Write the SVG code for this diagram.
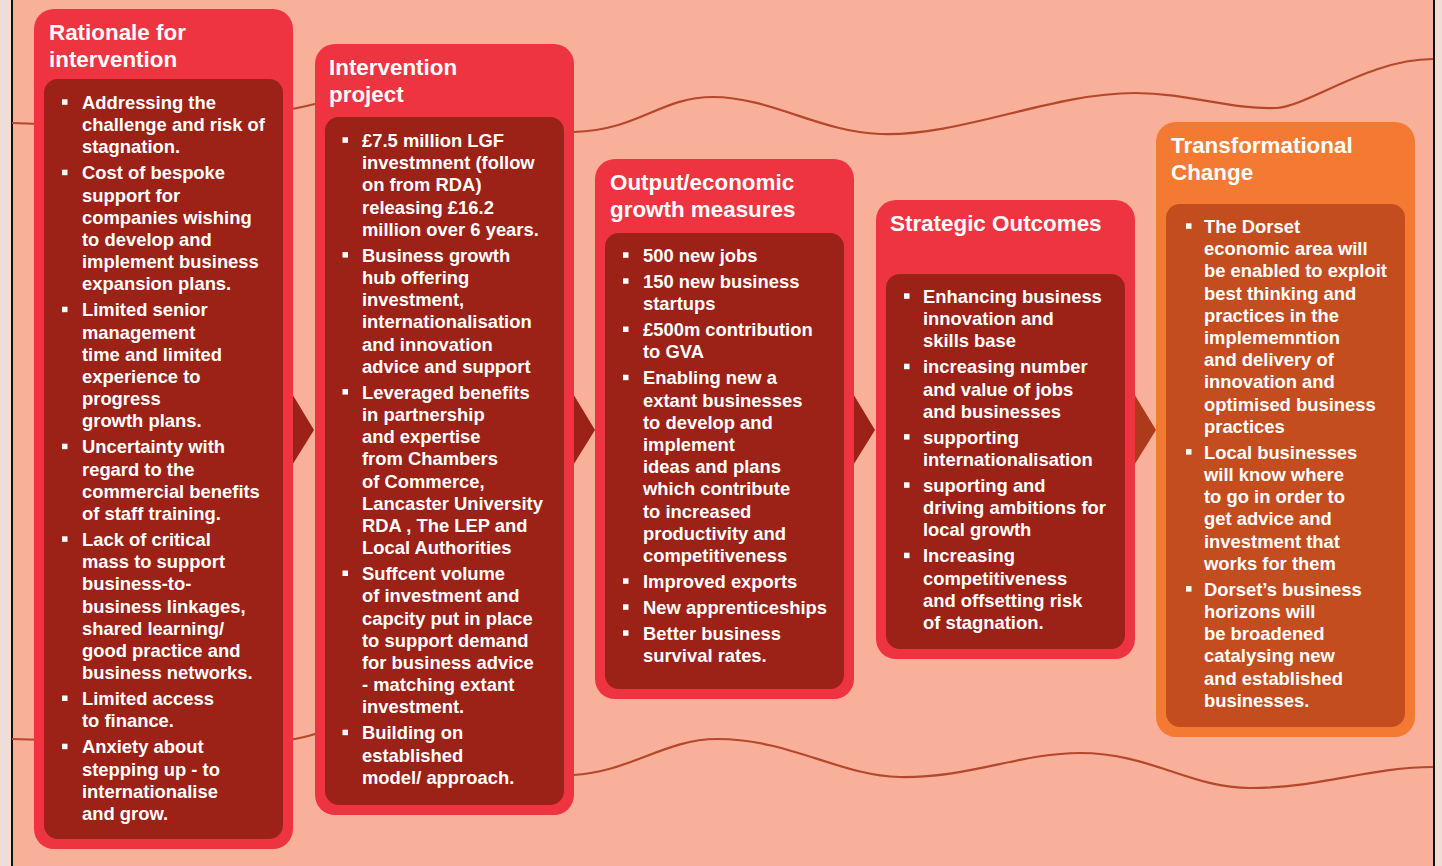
<svg xmlns="http://www.w3.org/2000/svg" width="1442" height="866" viewBox="0 0 1442 866">
<style>
.bg{fill:#F9B09B}
.edge{fill:#EEDED5}
.rule{fill:#111}
.outer{fill:#EE3441}
.inner{fill:#9C2117}
.outerO{fill:#F47A33}
.innerO{fill:#C44D20}
.wave{fill:none;stroke:#B5472B;stroke-width:2.2}
.t{font-family:"Liberation Sans",Arial,Helvetica,sans-serif;font-weight:bold;fill:#fff}
.h{font-size:22.4px}
.b{font-size:18.4px}
.bl{fill:#fff}
.arr{fill:#9C2117}
.arrO{fill:#AE3A1D}
</style>
<defs>
<rect id="bul" width="5.5" height="5.5"/>
</defs>
<rect class="bg" x="0" y="0" width="1442" height="866"/>
<rect class="edge" x="0" y="0" width="11" height="866"/>
<rect class="rule" x="11" y="0" width="2" height="866"/>
<rect class="edge" x="1435" y="0" width="7" height="866"/>
<rect class="rule" x="1433" y="0" width="2" height="866"/>
<path class="wave" d="M12,123 C150,128 250,120 315,104 C380,88 500,134 574,132 C640,130 660,97 713,97 C770,97 820,132 880,134 C960,137 1050,93 1135,93 C1190,93 1230,110 1277,108 C1310,105 1370,59 1433,59"/>
<path class="wave" d="M12,739 C150,742 260,752 315,734 C370,716 500,778 573,775 C630,772 665,739 717,739 C790,739 840,776 900,777 C970,778 1020,753 1080,753 C1150,753 1190,788 1250,788 C1320,788 1370,767 1433,767"/>

<g id="connectors">
<polygon class="arr" points="291,392 314,430 291,467"/>
<polygon class="arr" points="572,392 595,430 572,467"/>
<polygon class="arr" points="852,392 875,430 852,467"/>
<polygon class="arrO" points="1133,392 1156,430 1133,467"/>
</g>

<g id="rationale">
<rect class="outer" x="34" y="9" width="259" height="840" rx="20"/>
<rect class="inner" x="44" y="79" width="239" height="760" rx="14"/>
<text class="t h"><tspan x="49" y="40">Rationale for</tspan><tspan x="49" y="67">intervention</tspan></text>
<g class="bl">
<use href="#bul" x="62" y="99.3"/><use href="#bul" x="62" y="169.7"/><use href="#bul" x="62" y="306.7"/><use href="#bul" x="62" y="443.7"/><use href="#bul" x="62" y="536.3"/><use href="#bul" x="62" y="695.5"/><use href="#bul" x="62" y="743.7"/>
</g>
<text class="t b">
<tspan x="82" y="109">Addressing the</tspan>
<tspan x="82" y="131.2">challenge and risk of</tspan>
<tspan x="82" y="153.4">stagnation.</tspan>
<tspan x="82" y="179.4">Cost of bespoke</tspan>
<tspan x="82" y="201.6">support for</tspan>
<tspan x="82" y="223.8">companies wishing</tspan>
<tspan x="82" y="246">to develop and</tspan>
<tspan x="82" y="268.2">implement business</tspan>
<tspan x="82" y="290.4">expansion plans.</tspan>
<tspan x="82" y="316.4">Limited senior</tspan>
<tspan x="82" y="338.6">management</tspan>
<tspan x="82" y="360.8">time and limited</tspan>
<tspan x="82" y="383">experience to</tspan>
<tspan x="82" y="405.2">progress</tspan>
<tspan x="82" y="427.4">growth plans.</tspan>
<tspan x="82" y="453.4">Uncertainty with</tspan>
<tspan x="82" y="475.6">regard to the</tspan>
<tspan x="82" y="497.8">commercial benefits</tspan>
<tspan x="82" y="520">of staff training.</tspan>
<tspan x="82" y="546">Lack of critical</tspan>
<tspan x="82" y="568.2">mass to support</tspan>
<tspan x="82" y="590.4">business-to-</tspan>
<tspan x="82" y="612.6">business linkages,</tspan>
<tspan x="82" y="634.8">shared learning/</tspan>
<tspan x="82" y="657">good practice and</tspan>
<tspan x="82" y="679.2">business networks.</tspan>
<tspan x="82" y="705.2">Limited access</tspan>
<tspan x="82" y="727.4">to finance.</tspan>
<tspan x="82" y="753.4">Anxiety about</tspan>
<tspan x="82" y="775.6">stepping up - to</tspan>
<tspan x="82" y="797.8">internationalise</tspan>
<tspan x="82" y="820">and grow.</tspan>
</text>
</g>

<g id="intervention">
<rect class="outer" x="315" y="44" width="259" height="771" rx="20"/>
<rect class="inner" x="325" y="117" width="239" height="688" rx="14"/>
<text class="t h"><tspan x="329" y="75">Intervention</tspan><tspan x="329" y="102">project</tspan></text>
<g class="bl">
<use href="#bul" x="342.5" y="137.3"/><use href="#bul" x="342.5" y="252.1"/><use href="#bul" x="342.5" y="389.1"/><use href="#bul" x="342.5" y="570.5"/><use href="#bul" x="342.5" y="729.7"/>
</g>
<text class="t b">
<tspan x="362" y="147">£7.5 million LGF</tspan>
<tspan x="362" y="169.2">investmnent (follow</tspan>
<tspan x="362" y="191.4">on from RDA)</tspan>
<tspan x="362" y="213.6">releasing £16.2</tspan>
<tspan x="362" y="235.8">million over 6 years.</tspan>
<tspan x="362" y="261.8">Business growth</tspan>
<tspan x="362" y="284">hub offering</tspan>
<tspan x="362" y="306.2">investment,</tspan>
<tspan x="362" y="328.4">internationalisation</tspan>
<tspan x="362" y="350.6">and innovation</tspan>
<tspan x="362" y="372.8">advice and support</tspan>
<tspan x="362" y="398.8">Leveraged benefits</tspan>
<tspan x="362" y="421">in partnership</tspan>
<tspan x="362" y="443.2">and expertise</tspan>
<tspan x="362" y="465.4">from Chambers</tspan>
<tspan x="362" y="487.6">of Commerce,</tspan>
<tspan x="362" y="509.8">Lancaster University</tspan>
<tspan x="362" y="532">RDA , The LEP and</tspan>
<tspan x="362" y="554.2">Local Authorities</tspan>
<tspan x="362" y="580.2">Suffcent volume</tspan>
<tspan x="362" y="602.4">of investment and</tspan>
<tspan x="362" y="624.6">capcity put in place</tspan>
<tspan x="362" y="646.8">to support demand</tspan>
<tspan x="362" y="669">for business advice</tspan>
<tspan x="362" y="691.2">- matching extant</tspan>
<tspan x="362" y="713.4">investment.</tspan>
<tspan x="362" y="739.4">Building on</tspan>
<tspan x="362" y="761.6">established</tspan>
<tspan x="362" y="783.8">model/ approach.</tspan>
</text>
</g>

<g id="output">
<rect class="outer" x="595" y="159" width="259" height="540" rx="20"/>
<rect class="inner" x="605" y="233" width="239" height="456" rx="14"/>
<text class="t h"><tspan x="610" y="190">Output/economic</tspan><tspan x="610" y="217">growth measures</tspan></text>
<g class="bl">
<use href="#bul" x="623" y="252.3"/><use href="#bul" x="623" y="278.3"/><use href="#bul" x="623" y="326.5"/><use href="#bul" x="623" y="374.7"/><use href="#bul" x="623" y="578.3"/><use href="#bul" x="623" y="604.3"/><use href="#bul" x="623" y="630.3"/>
</g>
<text class="t b">
<tspan x="643" y="262">500 new jobs</tspan>
<tspan x="643" y="288">150 new business</tspan>
<tspan x="643" y="310.2">startups</tspan>
<tspan x="643" y="336.2">£500m contribution</tspan>
<tspan x="643" y="358.4">to GVA</tspan>
<tspan x="643" y="384.4">Enabling new a</tspan>
<tspan x="643" y="406.6">extant businesses</tspan>
<tspan x="643" y="428.8">to develop and</tspan>
<tspan x="643" y="451">implement</tspan>
<tspan x="643" y="473.2">ideas and plans</tspan>
<tspan x="643" y="495.4">which contribute</tspan>
<tspan x="643" y="517.6">to increased</tspan>
<tspan x="643" y="539.8">productivity and</tspan>
<tspan x="643" y="562">competitiveness</tspan>
<tspan x="643" y="588">Improved exports</tspan>
<tspan x="643" y="614">New apprenticeships</tspan>
<tspan x="643" y="640">Better business</tspan>
<tspan x="643" y="662.2">survival rates.</tspan>
</text>
</g>

<g id="strategic">
<rect class="outer" x="876" y="200" width="259" height="459" rx="20"/>
<rect class="inner" x="886" y="274" width="239" height="375" rx="14"/>
<text class="t h"><tspan x="890" y="231">Strategic Outcomes</tspan></text>
<g class="bl">
<use href="#bul" x="904" y="293.3"/><use href="#bul" x="904" y="363.7"/><use href="#bul" x="904" y="434.1"/><use href="#bul" x="904" y="482.3"/><use href="#bul" x="904" y="552.7"/>
</g>
<text class="t b">
<tspan x="923" y="303">Enhancing business</tspan>
<tspan x="923" y="325.2">innovation and</tspan>
<tspan x="923" y="347.4">skills base</tspan>
<tspan x="923" y="373.4">increasing number</tspan>
<tspan x="923" y="395.6">and value of jobs</tspan>
<tspan x="923" y="417.8">and businesses</tspan>
<tspan x="923" y="443.8">supporting</tspan>
<tspan x="923" y="466">internationalisation</tspan>
<tspan x="923" y="492">suporting and</tspan>
<tspan x="923" y="514.2">driving ambitions for</tspan>
<tspan x="923" y="536.4">local growth</tspan>
<tspan x="923" y="562.4">Increasing</tspan>
<tspan x="923" y="584.6">competitiveness</tspan>
<tspan x="923" y="606.8">and offsetting risk</tspan>
<tspan x="923" y="629">of stagnation.</tspan>
</text>
</g>

<g id="transformational">
<rect class="outerO" x="1156" y="122" width="259" height="615" rx="20"/>
<rect class="innerO" x="1166" y="204" width="239" height="523" rx="14"/>
<text class="t h"><tspan x="1171" y="153">Transformational</tspan><tspan x="1171" y="180">Change</tspan></text>
<g class="bl">
<use href="#bul" x="1186" y="223.3"/><use href="#bul" x="1186" y="449.1"/><use href="#bul" x="1186" y="586.1"/>
</g>
<text class="t b">
<tspan x="1204" y="233">The Dorset</tspan>
<tspan x="1204" y="255.2">economic area will</tspan>
<tspan x="1204" y="277.4">be enabled to exploit</tspan>
<tspan x="1204" y="299.6">best thinking and</tspan>
<tspan x="1204" y="321.8">practices in the</tspan>
<tspan x="1204" y="344">implememntion</tspan>
<tspan x="1204" y="366.2">and delivery of</tspan>
<tspan x="1204" y="388.4">innovation and</tspan>
<tspan x="1204" y="410.6">optimised business</tspan>
<tspan x="1204" y="432.8">practices</tspan>
<tspan x="1204" y="458.8">Local businesses</tspan>
<tspan x="1204" y="481">will know where</tspan>
<tspan x="1204" y="503.2">to go in order to</tspan>
<tspan x="1204" y="525.4">get advice and</tspan>
<tspan x="1204" y="547.6">investment that</tspan>
<tspan x="1204" y="569.8">works for them</tspan>
<tspan x="1204" y="595.8">Dorset’s business</tspan>
<tspan x="1204" y="618">horizons will</tspan>
<tspan x="1204" y="640.2">be broadened</tspan>
<tspan x="1204" y="662.4">catalysing new</tspan>
<tspan x="1204" y="684.6">and established</tspan>
<tspan x="1204" y="706.8">businesses.</tspan>
</text>
</g>
</svg>
